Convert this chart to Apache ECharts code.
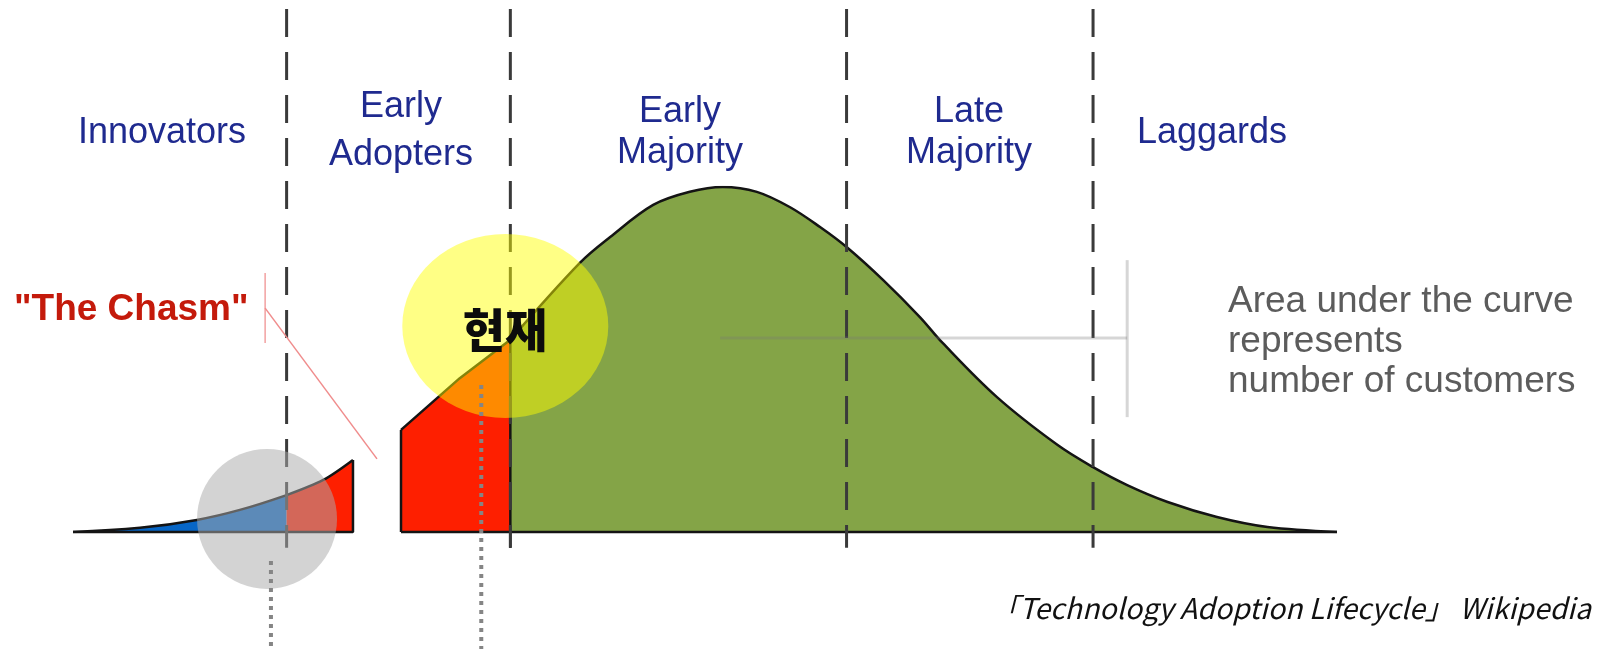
<!DOCTYPE html>
<html>
<head>
<meta charset="utf-8">
<script src="https://cdn.jsdelivr.net/npm/echarts@6/dist/echarts.min.js"></script>
<style>
  html, body { margin: 0; padding: 0; background: #fff; }
  #chart { width: 1598px; height: 649px; }
</style>
</head>
<body>
<div id="chart"></div>
<script>
(function () {
  "use strict";

  // x: adoption timeline (0-100), y: relative number of adopters (peak = 100)
  var INNOVATORS = [[0, 0], [5.3, 1.2], [9.8, 3.5], [13.2, 6.4], [16.9, 10.7]];
  var EARLY_ADOPTERS_PRE = [[16.9, 10.7], [19.8, 15.1], [22.15, 20.9]];
  var EARLY_ADOPTERS_POST = [[25.95, 29.6], [30.6, 44.6], [34.6, 55.7]];
  var MAJORITY = [
    [34.6, 55.7], [40.1, 78.0], [42.5, 85.5], [45.9, 94.8], [48.8, 98.6], [51.4, 100],
    [54.1, 98.6], [56.7, 94.2], [59.1, 88.4], [61.2, 82.6], [64.1, 73.0], [67.0, 62.3],
    [68.8, 54.8], [73.1, 39.1], [77.9, 25.2], [80.7, 18.8], [83.4, 13.6], [86.6, 8.7],
    [90.5, 4.35], [94.5, 1.45], [100, 0]
  ];
  var DIVIDERS = [16.9, 34.6, 61.2, 80.7];
  var SEGMENTS = ["Innovators", "Early\nAdopters", "Early\nMajority", "Late\nMajority", "Laggards"];
  var PAST_MARK = [15.35, 3.8];
  var NOW_MARK = [34.2, 59.7];
  var NOW_LABEL = "현재";
  var PAST_POINTER = [15.66, -8.4];
  var NOW_POINTER = [32.3, 42.6];
  var CHASM_BRACKET = [[15.2, 75.1], [15.2, 54.8]];
  var CHASM_LEADER = [[15.2, 64.9], [24.05, 21.2]];
  var AREA_BRACKET = [[83.4, 78.8], [83.4, 33.3]];
  var AREA_LEADER = [[51.2, 56.2], [83.4, 56.2]];
  var AREA_NOTE = "Area under the curve\nrepresents\nnumber of customers";
  var SOURCE = "「Technology Adoption Lifecycle」 Wikipedia";

  var BLUE = "#0766c6";
  var RED = "#fe1f00";
  var GREEN = "#84a447";
  var NAVY = "#1f2a8f";
  var STROKE = "#141414";
  var SANS = "Liberation Sans, Arial, sans-serif";

  var chart = echarts.init(document.getElementById("chart"), null, { renderer: "canvas" });

  function area(data, color, smooth) {
    return {
      type: "line", data: data, smooth: smooth, symbol: "none", silent: true, z: 2,
      lineStyle: { color: STROKE, width: 2.5 },
      areaStyle: { color: color, opacity: 1 }
    };
  }

  function seg(points, color, width, type, z) {
    return {
      type: "line", data: points, symbol: "none", silent: true, clip: false, z: z || 3,
      lineStyle: { color: color, width: width, type: type || "solid" }
    };
  }

  var pre = EARLY_ADOPTERS_PRE[EARLY_ADOPTERS_PRE.length - 1];
  var post = EARLY_ADOPTERS_POST[0];
  var end = MAJORITY[MAJORITY.length - 1];

  var series = [
    area(INNOVATORS, BLUE, 0.4),
    area(EARLY_ADOPTERS_PRE, RED, 0.3),
    area(EARLY_ADOPTERS_POST, RED, false),
    area(MAJORITY, GREEN, 0.35),
    // outline edges
    seg([[INNOVATORS[0][0], 0], [pre[0], 0], pre], STROKE, 2.5, "solid", 2),
    seg([[post[0], 0], post], STROKE, 2.5, "solid", 2),
    seg([[post[0], 0], [end[0], 0]], STROKE, 2.5, "solid", 2),
    seg([[MAJORITY[0][0], -4.6], MAJORITY[0]], STROKE, 2.5, "solid", 2)
  ];

  // segment dividers
  DIVIDERS.forEach(function (x) {
    series.push(seg([[x, 151.6], [x, -4.6]], "#3a3a3a", 3, [28, 15], 3));
  });

  // annotation brackets
  series.push(seg(CHASM_BRACKET, "#f2a0a0", 1.5, "solid", 3));
  series.push(seg(CHASM_LEADER, "#f08c8c", 1.5, "solid", 3));
  series.push(seg(AREA_BRACKET, "rgba(120,120,120,0.3)", 3, "solid", 3));
  series.push(seg(AREA_LEADER, "rgba(120,120,120,0.3)", 3, "solid", 3));

  // highlight markers
  series.push({
    type: "scatter", data: [PAST_MARK], symbolSize: 140, silent: true, z: 5,
    itemStyle: { color: "rgba(170,170,170,0.65)" }
  });
  series.push({
    type: "scatter", data: [NOW_MARK], symbolSize: [206, 184], silent: true, z: 5,
    itemStyle: { color: "rgba(255,255,0,0.6)" }
  });
  series.push(seg([PAST_POINTER, [PAST_POINTER[0], -34]], "#858585", 4, [4, 5], 6));
  series.push(seg([NOW_POINTER, [NOW_POINTER[0], -34]], "#858585", 4, [4, 5], 6));

  var labelX = [162, 401, 680, 969, 1212];
  var labelY = [133, 131, 133, 133, 133];
  var labelLH = [0, 48, 41, 41, 0];
  var graphic = SEGMENTS.map(function (name, i) {
    return {
      type: "text", x: labelX[i], y: labelY[i], z: 10, silent: true,
      style: {
        text: name, fill: NAVY, fontFamily: SANS, fontSize: 36,
        lineHeight: labelLH[i] || 40, align: "center", verticalAlign: "middle"
      }
    };
  });
  graphic.push({
    type: "text", x: 14, y: 310, z: 10, silent: true,
    style: {
      text: "\"The Chasm\"", fill: "#c41a0b", fontFamily: SANS,
      fontWeight: "bold", fontSize: 37, align: "left", verticalAlign: "middle"
    }
  });
  graphic.push({
    type: "text", x: 1228, y: 342, z: 10, silent: true,
    style: {
      text: AREA_NOTE, fill: "#5c5c5c", fontFamily: SANS,
      fontSize: 37, lineHeight: 40, align: "left", verticalAlign: "middle"
    }
  });
  graphic.push({
    type: "text", x: 505, y: 330, z: 20, silent: true,
    style: {
      text: NOW_LABEL, fill: "#0c0c0c", fontFamily: "Noto Sans CJK KR", fontWeight: 900,
      fontSize: 46, align: "center", verticalAlign: "middle",
      shadowColor: "rgba(0,0,0,0.45)", shadowBlur: 3, shadowOffsetX: 3, shadowOffsetY: 3
    }
  });
  graphic.push({
    type: "text", x: 1591, y: 608, z: 10, silent: true,
    style: {
      text: SOURCE, fill: "#111", fontFamily: "Noto Sans CJK KR", fontStyle: "italic",
      fontSize: 28.5, align: "right", verticalAlign: "middle"
    }
  });

  chart.setOption({
    animation: false,
    backgroundColor: "#fff",
    grid: { left: 73, right: 261, top: 187, bottom: 117 },
    xAxis: { type: "value", min: 0, max: 100, show: false },
    yAxis: { type: "value", min: 0, max: 100, show: false },
    series: series,
    graphic: graphic
  });
})();
</script>
</body>
</html>
